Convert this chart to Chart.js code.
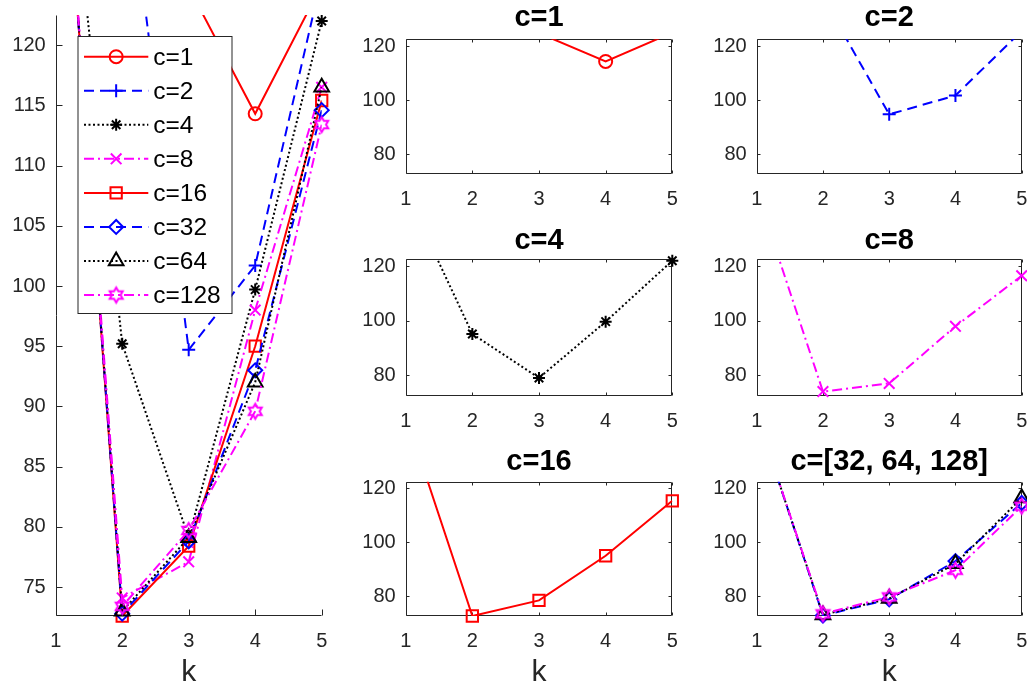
<!DOCTYPE html>
<html>
<head>
<meta charset="utf-8">
<script src="https://cdn.jsdelivr.net/npm/chart.js@4.4.0/dist/chart.umd.min.js"></script>
<style>
html, body { margin:0; padding:0; background:#fff; width:1027px; height:688px; overflow:hidden; position:relative; }
canvas { position:absolute; }
</style>
</head>
<body>
<canvas id="main" width="340" height="688" style="left:0px;top:0px"></canvas>
<canvas id="p1" width="340" height="214" style="left:350px;top:0px"></canvas>
<canvas id="p2" width="340" height="214" style="left:700px;top:0px"></canvas>
<canvas id="p3" width="340" height="216" style="left:350px;top:220px"></canvas>
<canvas id="p4" width="340" height="216" style="left:700px;top:220px"></canvas>
<canvas id="p5" width="340" height="248" style="left:350px;top:440px"></canvas>
<canvas id="p6" width="340" height="248" style="left:700px;top:440px"></canvas>
<script>
// ---------------- data ----------------
const kValues = [1, 2, 3, 4, 5];
const c1   = [147.3, 135.0, 124.8, 114.3, 125.0];
const c2   = [147.3, 138.0,  94.7, 101.7, 125.6];
const c4   = [147.3,  95.2,  79.1,  99.7, 122.0];
const c8   = [147.3,  74.1,  77.1,  98.0, 116.5];
const c16  = [147.3,  72.6,  78.4,  95.0, 115.4];
const c32  = [147.3,  72.8,  78.8,  93.0, 114.6];
const c64  = [147.3,  73.0,  79.1,  92.0, 116.5];
const c128 = [147.3,  73.4,  79.7,  89.6, 113.4];
const seriesLabels = ['c=1', 'c=2', 'c=4', 'c=8', 'c=16', 'c=32', 'c=64', 'c=128'];
const seriesValues = [c1, c2, c4, c8, c16, c32, c64, c128];
const leftYTicks = [75, 80, 85, 90, 95, 100, 105, 110, 115, 120];
const panelYTicks = [80, 100, 120];
const xTickValues = [1, 2, 3, 4, 5];
const panelTitles = ['c=1', 'c=2', 'c=4', 'c=8', 'c=16', 'c=[32, 64, 128]'];
const panelSeries = [[0], [1], [2], [3], [4], [5, 6, 7]];
const xLabel = 'k';
const yMin = 72.6, yMax = 122.5;

// ---------------- styles ----------------
const FONT = "'Liberation Sans', Arial, Helvetica, sans-serif";
const AX = '#262626';
const DASH = [10, 6], DOT = [2, 2.5], DASHDOT = [10, 4, 2, 4];

function hexagramCanvas(color, r, lw) {
  const s = Math.ceil(2 * r + 2 * lw + 2);
  const cv = document.createElement('canvas');
  cv.width = s; cv.height = s;
  const g = cv.getContext('2d');
  const c = s / 2, ri = r / Math.sqrt(3);
  g.beginPath();
  for (let i = 0; i < 12; i++) {
    const ang = -Math.PI / 2 + i * Math.PI / 6;
    const rr = (i % 2 === 0) ? r : ri;
    const px = c + rr * Math.cos(ang), py = c + rr * Math.sin(ang);
    if (i === 0) g.moveTo(px, py); else g.lineTo(px, py);
  }
  g.closePath();
  g.strokeStyle = color; g.lineWidth = lw; g.stroke();
  return cv;
}

const styles = [
  {color:'#FF0000', dash:[],      marker:'circle',   r:6.5},
  {color:'#0000FF', dash:DASH,    marker:'cross',    r:6.5},
  {color:'#000000', dash:DOT,     marker:'star',     r:6},
  {color:'#FF00FF', dash:DASHDOT, marker:'crossRot', r:7.5},
  {color:'#FF0000', dash:[],      marker:'rect',     r:8},
  {color:'#0000FF', dash:DASH,    marker:'rectRot',  r:7},
  {color:'#000000', dash:DOT,     marker:'triangle', r:8.5},
  {color:'#FF00FF', dash:DASHDOT, marker:hexagramCanvas('#FF00FF', 7.5, 2), r:7.5}
];

function drawMarker(ctx, st, x, y) {
  ctx.save();
  ctx.strokeStyle = st.color; ctx.fillStyle = 'rgba(0,0,0,0)'; ctx.lineWidth = 2; ctx.setLineDash([]);
  if (Chart.helpers && Chart.helpers.drawPoint) {
    Chart.helpers.drawPoint(ctx, {pointStyle: st.marker, radius: st.r, rotation: 0, borderWidth: 2}, x, y);
  } else if (typeof st.marker === 'object') {
    ctx.drawImage(st.marker, x - st.marker.width / 2, y - st.marker.height / 2);
  } else {
    ctx.beginPath(); ctx.arc(x, y, st.r, 0, Math.PI * 2); ctx.stroke();
  }
  ctx.restore();
}

function makeDatasets(idxList) {
  const ds = [];
  idxList.forEach(i => {
    const st = styles[i];
    const pts = kValues.map((k, j) => ({x: k, y: seriesValues[i][j]}));
    ds.push({
      label: seriesLabels[i], data: pts, borderColor: st.color, borderWidth: 2, borderDash: st.dash,
      pointRadius: 0, fill: false, tension: 0, clip: 0, order: 100 - 2 * i
    });
    ds.push({
      label: seriesLabels[i] + ' markers', data: pts.filter(p => p.y >= yMin && p.y <= yMax),
      showLine: false, pointStyle: st.marker, pointRadius: st.r, pointBorderWidth: 2,
      pointBorderColor: st.color, pointBackgroundColor: 'rgba(0,0,0,0)', clip: false, order: 99 - 2 * i
    });
  });
  return ds;
}

function axesPlugin(box, len) {
  return {
    id: 'mAxes',
    beforeDatasetsDraw(chart) {
      const {ctx, chartArea: a} = chart;
      const xs = chart.scales.x, ys = chart.scales.y;
      const L = Math.round(a.left) + 0.5, R = Math.round(a.right) - 0.5;
      const T = Math.round(a.top) + 0.5, B = Math.round(a.bottom) - 0.5;
      ctx.save();
      ctx.strokeStyle = AX; ctx.lineWidth = 1; ctx.setLineDash([]);
      ctx.beginPath();
      ctx.moveTo(L, T); ctx.lineTo(L, B); ctx.lineTo(R, B);
      if (box) { ctx.lineTo(R, T); ctx.lineTo(L, T); }
      ys.ticks.forEach(t => {
        const y = Math.round(ys.getPixelForValue(t.value)) + 0.5;
        ctx.moveTo(L, y); ctx.lineTo(L + len, y);
        if (box) { ctx.moveTo(R, y); ctx.lineTo(R - len, y); }
      });
      xs.ticks.forEach(t => {
        const x = Math.round(xs.getPixelForValue(t.value)) + 0.5;
        ctx.moveTo(x, B); ctx.lineTo(x, B - len);
        if (box) { ctx.moveTo(x, T); ctx.lineTo(x, T + len); }
      });
      ctx.stroke();
      ctx.restore();
    }
  };
}

const legendPlugin = {
  id: 'mLegend',
  afterDraw(chart) {
    const ctx = chart.ctx;
    const bx = 77.5, by = 36, bw = 154, bh = 277;
    const rowY0 = 56.7, rowStep = 34.05, lx0 = 84, lx1 = 148.3, tx = 153.3;
    ctx.save();
    ctx.fillStyle = '#fff'; ctx.fillRect(bx, by, bw, bh);
    ctx.strokeStyle = AX; ctx.lineWidth = 1; ctx.strokeRect(bx + 0.5, by + 0.5, bw, bh);
    seriesLabels.forEach((lab, i) => {
      const st = styles[i];
      const ry = rowY0 + i * rowStep;
      ctx.save();
      ctx.strokeStyle = st.color; ctx.lineWidth = 2; ctx.setLineDash(st.dash);
      ctx.beginPath(); ctx.moveTo(lx0, ry); ctx.lineTo(lx1, ry); ctx.stroke();
      ctx.restore();
      drawMarker(ctx, st, (lx0 + lx1) / 2, ry);
      ctx.fillStyle = '#000'; ctx.font = '24.5px ' + FONT;
      ctx.textBaseline = 'middle'; ctx.textAlign = 'left';
      ctx.fillText(lab, tx, ry + 1.5);
    });
    ctx.restore();
  }
};

function build(id, p) {
  const plugins = [axesPlugin(p.box, p.tickLen)];
  if (p.legend) plugins.push(legendPlugin);
  new Chart(document.getElementById(id), {
    type: 'line',
    data: { datasets: makeDatasets(p.series) },
    options: {
      responsive: false, animation: false, devicePixelRatio: 1, events: [],
      layout: { padding: { left: 0, right: p.padR, top: p.padT, bottom: 0 } },
      plugins: {
        legend: { display: false },
        tooltip: { enabled: false },
        title: {
          display: !!p.title, text: p.title || '', fullSize: false,
          font: { family: FONT, size: 29, weight: 'bold', lineHeight: 1.16 }, color: '#000',
          padding: { top: p.tPT || 0, bottom: p.tPB || 0 }
        }
      },
      scales: {
        x: {
          type: 'linear', min: 1, max: 5,
          afterBuildTicks: s => { s.ticks = xTickValues.map(v => ({value: v})); },
          afterFit: s => { s.height = p.xH; s.paddingLeft = 0; s.paddingRight = 0; },
          grid: { display: false, drawTicks: false, tickLength: 0 },
          border: { display: false },
          ticks: { font: { family: FONT, size: 20 }, color: AX, padding: 13.5, maxRotation: 0, autoSkip: false, callback: v => String(v) },
          title: { display: !!p.k, text: xLabel, font: { family: FONT, size: 30, lineHeight: 1 }, color: AX, padding: { top: 0, bottom: 0 } }
        },
        y: {
          type: 'linear', min: yMin, max: yMax,
          afterBuildTicks: s => { s.ticks = p.yTicks.map(v => ({value: v})); },
          afterFit: s => { s.width = p.yW; s.paddingTop = 0; s.paddingBottom = 0; },
          grid: { display: false, drawTicks: false, tickLength: 0 },
          border: { display: false },
          ticks: { font: { family: FONT, size: 20 }, color: AX, padding: 10, autoSkip: false, callback: v => String(v) }
        }
      }
    },
    plugins: plugins
  });
}

// main (left) chart
build('main', { series: [0,1,2,3,4,5,6,7], yTicks: leftYTicks, yW: 55.7, padR: 18.3, padT: 15, xH: 72, k: true, box: false, tickLen: 6, legend: true });

// small panels
const colGeom = [ { yW: 55.7, padR: 17.7 }, { yW: 56.7, padR: 18.3 } ];
const rowGeom = [ { tPT: 1.5, tPB: 4.2, xH: 40,   k: false },
                  { tPT: 4.2, tPB: 1.5, xH: 40.3, k: false },
                  { tPT: 4.7, tPB: 3.4, xH: 72,   k: true } ];
for (let i = 0; i < 6; i++) {
  const cg = colGeom[i % 2], rg = rowGeom[Math.floor(i / 2)];
  build('p' + (i + 1), {
    series: panelSeries[i], title: panelTitles[i], yTicks: panelYTicks,
    yW: cg.yW, padR: cg.padR, padT: 0, tPT: rg.tPT, tPB: rg.tPB, xH: rg.xH, k: rg.k, box: true, tickLen: 3
  });
}
</script>
</body>
</html>
